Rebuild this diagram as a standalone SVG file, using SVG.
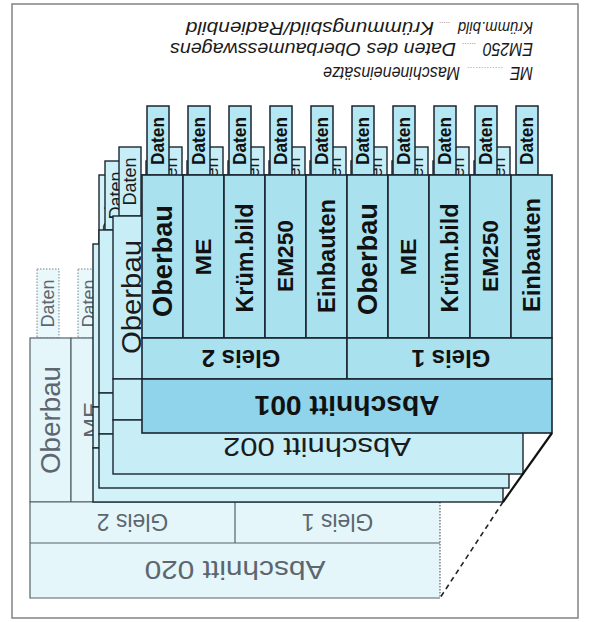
<svg xmlns="http://www.w3.org/2000/svg" width="589" height="622" viewBox="0 0 589 622">
<style>
.frame{fill:#fff;stroke:#8a8a8a;stroke-width:1.6}
.c1{fill:#a9e1ef;stroke:#1b2530;stroke-width:1.6}
.a1{fill:#8fd4ea;stroke:#1b2530;stroke-width:1.6}
.t1{fill:#b2e7f3;stroke:#1b2530;stroke-width:1.5}
.c2{fill:#c7eef7;stroke:#1b2530;stroke-width:1.4}
.c3{fill:#ccf0f8;stroke:#1b2530;stroke-width:1.4}
.c4{fill:#d2f2f9;stroke:#1b2530;stroke-width:1.4}
.c20{fill:#e4f6fa;stroke:#56616b;stroke-width:1.2}
.f20{fill:#e4f6fa;stroke:none}
.l20{fill:none;stroke:#56616b;stroke-width:1.2}
.d20{fill:none;stroke:#56616b;stroke-width:1.2;stroke-dasharray:1.5 1.5}
.t20{fill:#e9f8fb;stroke:#7b858c;stroke-width:1;stroke-dasharray:1.5 1.5}
text{font-family:"Liberation Sans",Arial,sans-serif}
.b{font-weight:bold;fill:#111}
.r{fill:#1c1c1c}
.g{fill:#5d666e}
.leg{font-style:italic;fill:#1a1a1a;font-size:17.5px}
.dots{fill:#9a9a9a;font-size:9px;font-style:normal}
</style>

<rect class="frame" x="12" y="4" width="566" height="614"/>

<g id="legend">
  <g transform="translate(533,22) rotate(180)">
    <text class="leg" x="0" y="0" font-size="16" style="font-size:16px" textLength="75" lengthAdjust="spacingAndGlyphs">Krümm.bild</text>
    <text class="dots" x="83" y="0" textLength="11" lengthAdjust="spacing">.....</text>
    <text class="leg" x="99" y="0" textLength="248" lengthAdjust="spacingAndGlyphs">Krümmungsbild/Radienbild</text>
  </g>
  <g transform="translate(533,43) rotate(180)">
    <text class="leg" x="0" y="0" textLength="50" lengthAdjust="spacingAndGlyphs">EM250</text>
    <text class="dots" x="57" y="0" textLength="14" lengthAdjust="spacing">......</text>
    <text class="leg" x="77" y="0" textLength="286" lengthAdjust="spacingAndGlyphs">Daten des Oberbaumesswagens</text>
  </g>
  <g transform="translate(533,67) rotate(180)">
    <text class="leg" x="0" y="0" textLength="23" lengthAdjust="spacingAndGlyphs">ME</text>
    <text class="dots" x="30" y="0" textLength="36" lengthAdjust="spacing">.............</text>
    <text class="leg" x="73" y="0" textLength="137" lengthAdjust="spacingAndGlyphs">Maschineneinsätze</text>
  </g>
</g>

<g id="abschnitt-020">
  <rect class="t20" x="37" y="269" width="22" height="69"/>
  <rect class="t20" x="78" y="269" width="22" height="69"/>
  <text class="g" font-size="18" transform="translate(48,303.5) rotate(-90)" text-anchor="middle" dy="0.35em" textLength="48" lengthAdjust="spacingAndGlyphs">Daten</text>
  <text class="g" font-size="18" transform="translate(89,303.5) rotate(-90)" text-anchor="middle" dy="0.35em" textLength="48" lengthAdjust="spacingAndGlyphs">Daten</text>
  <rect class="c20" x="30" y="338" width="41" height="164"/>
  <rect class="c20" x="71" y="338" width="41" height="164"/>
  <text class="g" font-size="28" transform="translate(50.5,420) rotate(-90)" text-anchor="middle" dy="0.35em" textLength="108" lengthAdjust="spacingAndGlyphs">Oberbau</text>
  <text class="g" font-size="22" transform="translate(91.5,420) rotate(-90)" text-anchor="middle" dy="0.35em" textLength="36" lengthAdjust="spacingAndGlyphs">ME</text>
  <rect class="f20" x="30" y="502" width="410" height="96"/>
  <path class="l20" d="M440,502 H30 V598 H440 M30,543 H440 M235,502 V543"/>
  <path class="d20" d="M440,502 V598"/>
  <text class="g" font-size="23" transform="rotate(180 132.5 522.5)" x="132.5" y="522.5" text-anchor="middle" dy="0.35em">Gleis 2</text>
  <text class="g" font-size="23" transform="rotate(180 337.5 522.5)" x="337.5" y="522.5" text-anchor="middle" dy="0.35em">Gleis 1</text>
  <text class="g" font-size="26" transform="rotate(180 235 570.5)" x="235" y="570.5" text-anchor="middle" dy="0.35em" textLength="181" lengthAdjust="spacingAndGlyphs">Abschnitt 020</text>
</g>

<g id="abschnitt-stack-b">
  <g class="c4">
    <rect x="99" y="175" width="22" height="69"/><rect x="140" y="175" width="22" height="69"/><rect x="181" y="175" width="22" height="69"/><rect x="222" y="175" width="22" height="69"/><rect x="263" y="175" width="22" height="69"/><rect x="304" y="175" width="22" height="69"/><rect x="345" y="175" width="22" height="69"/><rect x="386" y="175" width="22" height="69"/><rect x="427" y="175" width="22" height="69"/><rect x="468" y="175" width="22" height="69"/>
  </g>
  <text class="r" font-size="18" transform="translate(110,209.5) rotate(-90)" text-anchor="middle" dy="0.35em" textLength="48" lengthAdjust="spacingAndGlyphs">Daten</text>
  <g class="c4">
    <rect x="93" y="244" width="41" height="163"/><rect x="134" y="244" width="41" height="163"/><rect x="175" y="244" width="41" height="163"/><rect x="216" y="244" width="41" height="163"/><rect x="257" y="244" width="41" height="163"/><rect x="298" y="244" width="41" height="163"/><rect x="339" y="244" width="41" height="163"/><rect x="380" y="244" width="41" height="163"/><rect x="421" y="244" width="41" height="163"/><rect x="462" y="244" width="41" height="163"/>
    <rect x="93" y="407" width="205" height="41"/><rect x="298" y="407" width="205" height="41"/>
    <rect x="93" y="448" width="410" height="54"/>
  </g>
</g>

<g id="abschnitt-stack-a">
  <g class="c3">
    <rect x="105" y="161" width="22" height="69"/><rect x="146" y="161" width="22" height="69"/><rect x="187" y="161" width="22" height="69"/><rect x="228" y="161" width="22" height="69"/><rect x="269" y="161" width="22" height="69"/><rect x="310" y="161" width="22" height="69"/><rect x="351" y="161" width="22" height="69"/><rect x="392" y="161" width="22" height="69"/><rect x="433" y="161" width="22" height="69"/><rect x="474" y="161" width="22" height="69"/>
  </g>
  <text class="r" font-size="18" transform="translate(116,195.5) rotate(-90)" text-anchor="middle" dy="0.35em" textLength="48" lengthAdjust="spacingAndGlyphs">Daten</text>
  <g class="c3">
    <rect x="99" y="230" width="41" height="163"/><rect x="140" y="230" width="41" height="163"/><rect x="181" y="230" width="41" height="163"/><rect x="222" y="230" width="41" height="163"/><rect x="263" y="230" width="41" height="163"/><rect x="304" y="230" width="41" height="163"/><rect x="345" y="230" width="41" height="163"/><rect x="386" y="230" width="41" height="163"/><rect x="427" y="230" width="41" height="163"/><rect x="468" y="230" width="41" height="163"/>
    <rect x="99" y="393" width="205" height="41"/><rect x="304" y="393" width="205" height="41"/>
    <rect x="99" y="434" width="410" height="54"/>
  </g>
</g>

<g id="abschnitt-002">
  <g class="c2">
    <rect x="119" y="147" width="22" height="69"/><rect x="160" y="147" width="22" height="69"/><rect x="201" y="147" width="22" height="69"/><rect x="242" y="147" width="22" height="69"/><rect x="283" y="147" width="22" height="69"/><rect x="324" y="147" width="22" height="69"/><rect x="365" y="147" width="22" height="69"/><rect x="406" y="147" width="22" height="69"/><rect x="447" y="147" width="22" height="69"/><rect x="488" y="147" width="22" height="69"/>
  </g>
  <g class="r" font-size="18" text-anchor="middle">
    <text transform="translate(130,181.5) rotate(-90)" dy="0.35em" textLength="48" lengthAdjust="spacingAndGlyphs">Daten</text>
    <text transform="translate(171,181.5) rotate(-90)" dy="0.35em" textLength="48" lengthAdjust="spacingAndGlyphs">Daten</text>
    <text transform="translate(212,181.5) rotate(-90)" dy="0.35em" textLength="48" lengthAdjust="spacingAndGlyphs">Daten</text>
    <text transform="translate(253,181.5) rotate(-90)" dy="0.35em" textLength="48" lengthAdjust="spacingAndGlyphs">Daten</text>
    <text transform="translate(294,181.5) rotate(-90)" dy="0.35em" textLength="48" lengthAdjust="spacingAndGlyphs">Daten</text>
    <text transform="translate(335,181.5) rotate(-90)" dy="0.35em" textLength="48" lengthAdjust="spacingAndGlyphs">Daten</text>
    <text transform="translate(376,181.5) rotate(-90)" dy="0.35em" textLength="48" lengthAdjust="spacingAndGlyphs">Daten</text>
    <text transform="translate(417,181.5) rotate(-90)" dy="0.35em" textLength="48" lengthAdjust="spacingAndGlyphs">Daten</text>
    <text transform="translate(458,181.5) rotate(-90)" dy="0.35em" textLength="48" lengthAdjust="spacingAndGlyphs">Daten</text>
    <text transform="translate(499,181.5) rotate(-90)" dy="0.35em" textLength="48" lengthAdjust="spacingAndGlyphs">Daten</text>
  </g>
  <g class="c2">
    <rect x="113" y="216" width="41" height="163"/><rect x="154" y="216" width="41" height="163"/><rect x="195" y="216" width="41" height="163"/><rect x="236" y="216" width="41" height="163"/><rect x="277" y="216" width="41" height="163"/><rect x="318" y="216" width="41" height="163"/><rect x="359" y="216" width="41" height="163"/><rect x="400" y="216" width="41" height="163"/><rect x="441" y="216" width="41" height="163"/><rect x="482" y="216" width="41" height="163"/>
    <rect x="113" y="379" width="205" height="41"/><rect x="318" y="379" width="205" height="41"/>
    <rect x="113" y="420" width="410" height="54"/>
  </g>
  <text class="r" font-size="28" transform="translate(131,297) rotate(-90)" text-anchor="middle" dy="0.35em" textLength="114" lengthAdjust="spacingAndGlyphs">Oberbau</text>
  <text class="r" font-size="25" transform="rotate(180 317 447)" x="317" y="447" text-anchor="middle" dy="0.35em" textLength="188" lengthAdjust="spacingAndGlyphs">Abschnitt 002</text>
</g>

<g id="abschnitt-001">
  <g class="t1">
    <rect x="147" y="106" width="22" height="69"/><rect x="188" y="106" width="22" height="69"/><rect x="229" y="106" width="22" height="69"/><rect x="270" y="106" width="22" height="69"/><rect x="311" y="106" width="22" height="69"/><rect x="352" y="106" width="22" height="69"/><rect x="393" y="106" width="22" height="69"/><rect x="434" y="106" width="22" height="69"/><rect x="475" y="106" width="22" height="69"/><rect x="516" y="106" width="22" height="69"/>
  </g>
  <g class="b" font-size="18" text-anchor="middle">
    <text transform="translate(158,141) rotate(-90)" dy="0.35em" textLength="48" lengthAdjust="spacingAndGlyphs">Daten</text>
    <text transform="translate(199,141) rotate(-90)" dy="0.35em" textLength="48" lengthAdjust="spacingAndGlyphs">Daten</text>
    <text transform="translate(240,141) rotate(-90)" dy="0.35em" textLength="48" lengthAdjust="spacingAndGlyphs">Daten</text>
    <text transform="translate(281,141) rotate(-90)" dy="0.35em" textLength="48" lengthAdjust="spacingAndGlyphs">Daten</text>
    <text transform="translate(322,141) rotate(-90)" dy="0.35em" textLength="48" lengthAdjust="spacingAndGlyphs">Daten</text>
    <text transform="translate(363,141) rotate(-90)" dy="0.35em" textLength="48" lengthAdjust="spacingAndGlyphs">Daten</text>
    <text transform="translate(404,141) rotate(-90)" dy="0.35em" textLength="48" lengthAdjust="spacingAndGlyphs">Daten</text>
    <text transform="translate(445,141) rotate(-90)" dy="0.35em" textLength="48" lengthAdjust="spacingAndGlyphs">Daten</text>
    <text transform="translate(486,141) rotate(-90)" dy="0.35em" textLength="48" lengthAdjust="spacingAndGlyphs">Daten</text>
    <text transform="translate(527,141) rotate(-90)" dy="0.35em" textLength="48" lengthAdjust="spacingAndGlyphs">Daten</text>
  </g>
  <g class="c1">
    <rect x="142" y="175" width="41" height="163"/><rect x="183" y="175" width="41" height="163"/><rect x="224" y="175" width="41" height="163"/><rect x="265" y="175" width="41" height="163"/><rect x="306" y="175" width="41" height="163"/><rect x="347" y="175" width="41" height="163"/><rect x="388" y="175" width="41" height="163"/><rect x="429" y="175" width="41" height="163"/><rect x="470" y="175" width="41" height="163"/><rect x="511" y="175" width="41" height="163"/>
    <rect x="142" y="338" width="205" height="41"/><rect x="347" y="338" width="205" height="41"/>
  </g>
  <rect class="a1" x="142" y="379" width="410" height="54"/>
  <g class="b" text-anchor="middle">
    <text font-size="28" transform="translate(162.5,261) rotate(-90)" dy="0.35em" textLength="112" lengthAdjust="spacingAndGlyphs">Oberbau</text>
    <text font-size="22" transform="translate(203.5,257) rotate(-90)" dy="0.35em" textLength="37" lengthAdjust="spacingAndGlyphs">ME</text>
    <text font-size="23" transform="translate(244.5,258) rotate(-90)" dy="0.35em" textLength="109" lengthAdjust="spacingAndGlyphs">Krüm.bild</text>
    <text font-size="22" transform="translate(285.5,256) rotate(-90)" dy="0.35em" textLength="72" lengthAdjust="spacingAndGlyphs">EM250</text>
    <text font-size="23" transform="translate(326.5,256) rotate(-90)" dy="0.35em" textLength="114" lengthAdjust="spacingAndGlyphs">Einbauten</text>
    <text font-size="28" transform="translate(367.5,259) rotate(-90)" dy="0.35em" textLength="112" lengthAdjust="spacingAndGlyphs">Oberbau</text>
    <text font-size="22" transform="translate(408.5,257) rotate(-90)" dy="0.35em" textLength="37" lengthAdjust="spacingAndGlyphs">ME</text>
    <text font-size="23" transform="translate(449.5,258) rotate(-90)" dy="0.35em" textLength="109" lengthAdjust="spacingAndGlyphs">Krüm.bild</text>
    <text font-size="22" transform="translate(490.5,256) rotate(-90)" dy="0.35em" textLength="72" lengthAdjust="spacingAndGlyphs">EM250</text>
    <text font-size="23" transform="translate(531.5,255) rotate(-90)" dy="0.35em" textLength="114" lengthAdjust="spacingAndGlyphs">Einbauten</text>
    <text font-size="24" transform="rotate(180 241 358.5)" x="241" y="358.5" dy="0.35em">Gleis 2</text>
    <text font-size="24" transform="rotate(180 451 358.5)" x="451" y="358.5" dy="0.35em">Gleis 1</text>
    <text font-size="28" transform="rotate(180 347 406)" x="347" y="406" dy="0.35em" textLength="185" lengthAdjust="spacingAndGlyphs">Abschnitt 001</text>
  </g>
</g>

<g id="connectors">
  <path d="M552,433 L503,502" fill="none" stroke="#111" stroke-width="2.2"/>
  <path d="M503,502 L440,598" fill="none" stroke="#222" stroke-width="1.6" stroke-dasharray="5 4"/>
</g>
</svg>
